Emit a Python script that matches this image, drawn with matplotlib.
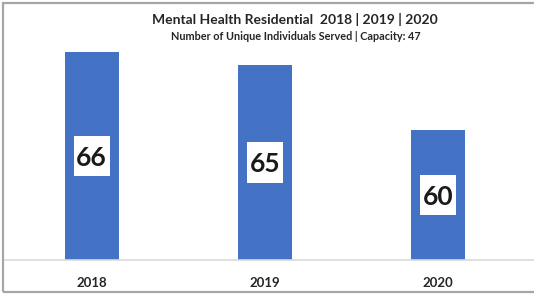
import matplotlib
matplotlib.use("Agg")
import matplotlib.pyplot as plt
from matplotlib.patches import Rectangle
from matplotlib.lines import Line2D

years = ["2018", "2019", "2020"]
served = [66, 65, 60]
title = "Mental Health Residential  2018 | 2019 | 2020"
subtitle = "Number of Unique Individuals Served | Capacity: 47"

plt.rcParams['font.family'] = ['Lato', 'DejaVu Sans']

W, H = 534, 295
fig = plt.figure(figsize=(W/100, H/100), dpi=100)
fig.patch.set_facecolor('white')

ymin, ymax = 50, 70
ax = fig.add_axes([5/W, (H-260)/H, 520/W, 260/H])
ax.set_facecolor('none')
x = list(range(len(years)))
ax.bar(x, served, width=0.31, color='#4472C4', zorder=2)
ax.set_xlim(-0.5, 2.5)
ax.set_ylim(ymin, ymax)
for s in ax.spines.values():
    s.set_visible(False)
ax.set_yticks([])
ax.set_xticks(x)
ax.set_xticklabels(years, fontsize=9.5, fontweight='bold', color='#262626')
ax.tick_params(axis='x', length=0, pad=12)

# label box size in data units (36 x 40 px)
px_x = 3.0 / 520
px_y = (ymax - ymin) / 260
bw, bh = 36 * px_x, 40 * px_y
for xi, v in zip(x, served):
    yc = (ymin + v) / 2
    ax.add_patch(Rectangle((xi - bw/2, yc - bh/2), bw, bh, facecolor='white',
                           edgecolor='none', zorder=3))
    ax.text(xi, yc, str(v), ha='center', va='center_baseline', fontsize=19,
            fontweight='bold', color='#1a1a1a', zorder=4)

# baseline
fig.add_artist(Line2D([5/W, 1.0], [(H-260)/H, (H-260)/H], color='#d9d9d9', lw=1.2))

# outer frame
fig.add_artist(Rectangle((3/W, 3/H), 1.2, (H-6)/H, transform=fig.transFigure,
                         fill=False, edgecolor='#a6a6a6', lw=1.6))

fig.text(295/W, 1 - 20/H, title, ha='center', va='center', fontsize=10,
         fontweight='bold', color='#262626')
fig.text(296/W, 1 - 37/H, subtitle, ha='center', va='center', fontsize=7.8,
         fontweight='bold', color='#262626')

fig.savefig('out.png', dpi=100, facecolor='white')
